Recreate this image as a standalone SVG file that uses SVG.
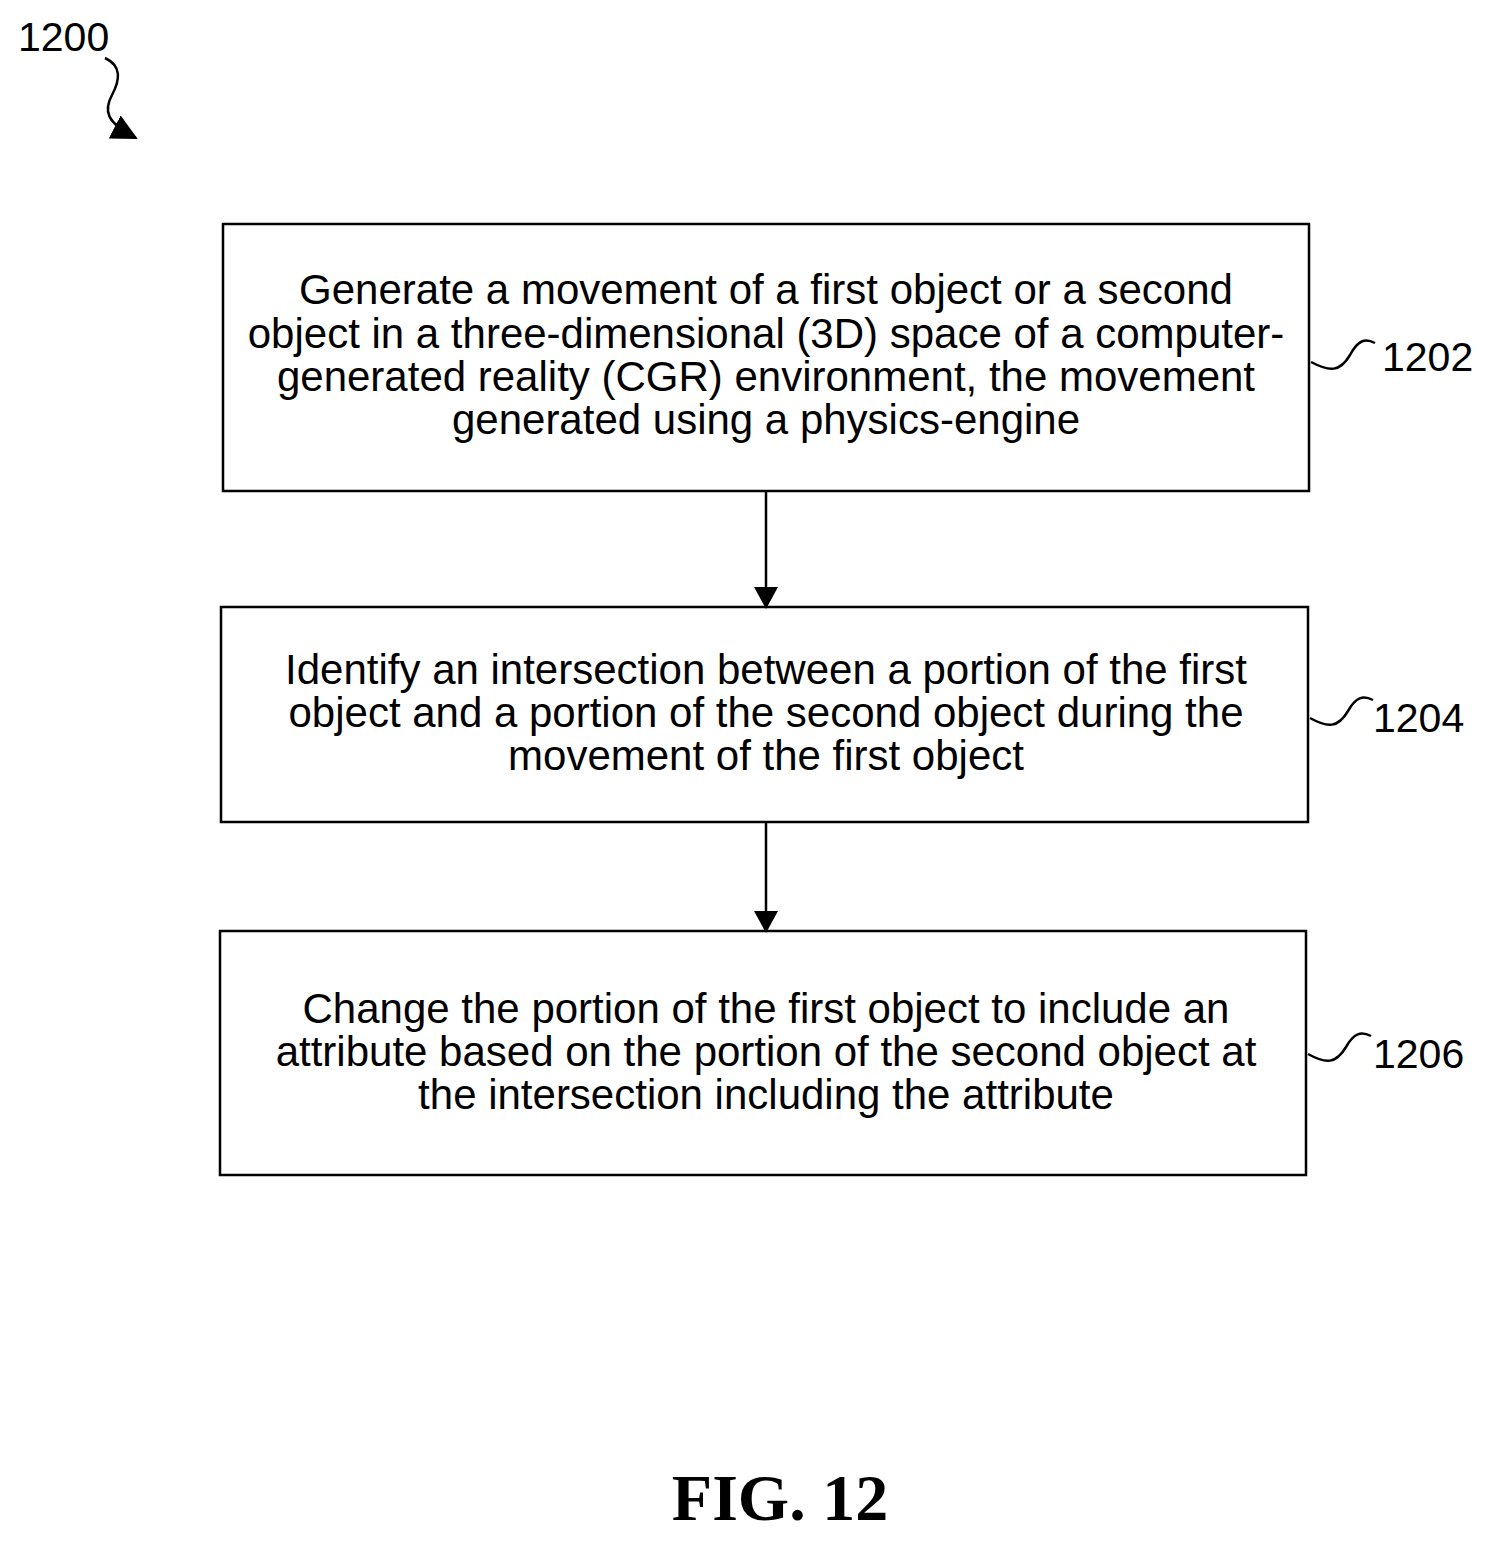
<svg xmlns="http://www.w3.org/2000/svg" width="1493" height="1543" viewBox="0 0 1493 1543">
<style>
.box{fill:#fff;stroke:#000;stroke-width:2.5}
.t{font-family:"Liberation Sans",Arial,sans-serif;font-size:42px;text-anchor:middle}
.l{font-family:"Liberation Sans",Arial,sans-serif;font-size:41px}
.w{fill:none;stroke:#000;stroke-width:2.5}
</style>
<defs><marker id="a" markerWidth="22" markerHeight="24" refX="20" refY="12" orient="auto" markerUnits="userSpaceOnUse" viewBox="0 0 22 24"><path d="M0,0L22,12L0,24z"/></marker>
<marker id="b" markerWidth="26" markerHeight="26" refX="24" refY="13" orient="auto" markerUnits="userSpaceOnUse" viewBox="0 0 26 26"><path d="M0,0L26,13L0,26z"/></marker></defs>
<rect width="1493" height="1543" fill="#fff"/>
<text class="l" x="18" y="51">1200</text>
<path class="w" d="M105,58C122,66 120,80 112,95C104,110 105,122 136,138" marker-end="url(#b)"/>
<g id="n1202"><rect class="box" x="223" y="224" width="1086" height="267"/>
<text class="t" x="766" y="304">Generate a movement of a first object or a second</text>
<text class="t" x="766" y="348">object in a three-dimensional (3D) space of a computer-</text>
<text class="t" x="766" y="391">generated reality (CGR) environment, the movement</text>
<text class="t" x="766" y="434">generated using a physics-engine</text>
<path class="w" d="M1311,362C1330,372 1340,372 1350,355C1358,340 1365,338 1375,343"/>
<text class="l" x="1382" y="371">1202</text></g>
<g id="n1204"><rect class="box" x="221" y="607" width="1087" height="215"/>
<text class="t" x="766" y="684">Identify an intersection between a portion of the first</text>
<text class="t" x="766" y="727">object and a portion of the second object during the</text>
<text class="t" x="766" y="770">movement of the first object</text>
<path class="w" d="M1310,718C1328,728 1338,728 1348,711C1356,697 1363,695 1373,700"/>
<text class="l" x="1373" y="732">1204</text></g>
<g id="n1206"><rect class="box" x="220" y="931" width="1086" height="244"/>
<text class="t" x="766" y="1023">Change the portion of the first object to include an</text>
<text class="t" x="766" y="1066">attribute based on the portion of the second object at</text>
<text class="t" x="766" y="1109">the intersection including the attribute</text>
<path class="w" d="M1308,1054C1326,1064 1336,1064 1346,1047C1354,1033 1361,1031 1371,1036"/>
<text class="l" x="1373" y="1068">1206</text></g>
<g id="connectors">
<line class="w" x1="766" y1="491" x2="766" y2="607" marker-end="url(#a)"/>
<line class="w" x1="766" y1="822" x2="766" y2="931" marker-end="url(#a)"/>
</g>
<text x="780" y="1520" font-family="Liberation Serif,serif" font-weight="bold" font-size="66" text-anchor="middle">FIG. 12</text>
</svg>
